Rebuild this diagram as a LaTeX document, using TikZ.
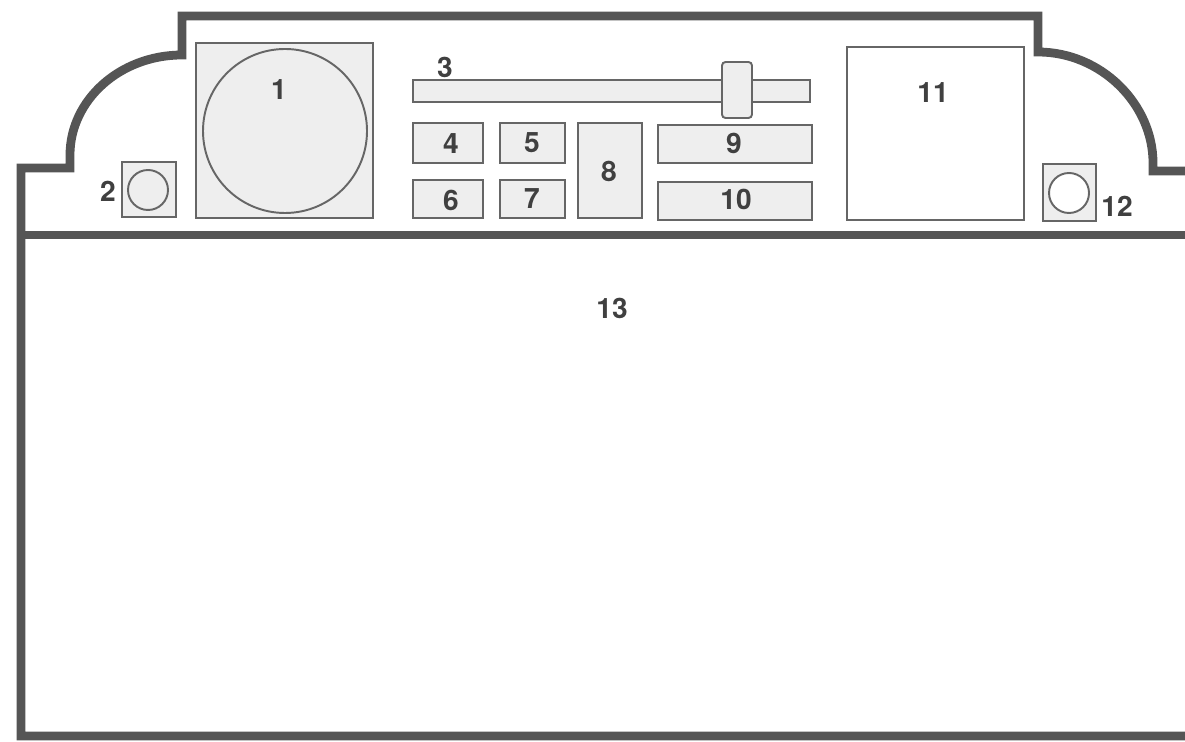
\documentclass[tikz,border=0pt]{standalone}
\usepackage{fontspec}
\setmainfont{TeX Gyre Heros}
\usepackage{tikz}
\usepackage{xcolor}
\definecolor{casing}{HTML}{555555}
\definecolor{trim}{HTML}{666666}
\definecolor{panel}{HTML}{EEEEEE}

\begin{document}
\begin{tikzpicture}[x=0.02cm,y=-0.02cm,line join=miter,
  font=\bfseries\fontsize{16}{18}\selectfont,
  shell/.style={casing,line width=5pt},
  part/.style={trim,line width=1.1pt,fill=panel},
  lbl/.style={text=black!75,inner sep=0pt}]
\useasboundingbox (0,0) rectangle (1185,742);
% casing
\draw[shell] (1185,171) -- (1153,171) -- (1153,163)
  .. controls (1153,104) and (1101,52) .. (1038,52) -- (1038,16) -- (182,16) -- (182,55)
  .. controls (120,55) and (70,100) .. (70,155) -- (70,168) -- (21,168) -- (21,736) -- (1185,736);
\draw[shell] (21,235) -- (1185,235);
% dial and small knobs
\draw[part] (196,43) rectangle (373,218);
\draw[part] (285,131) circle (82);
\draw[part] (122,162) rectangle (176,217);
\draw[part] (148,190) circle (20);
\draw[part] (1043,164) rectangle (1096,221);
\draw[part,fill=white] (1069,193) circle (20);
% slider
\draw[part] (413,80) rectangle (810,102);
\draw[part,rounded corners=2pt] (722,62) rectangle (752,118);
% buttons
\draw[part] (413,123) rectangle (483,163);
\draw[part] (500,123) rectangle (565,163);
\draw[part] (413,180) rectangle (483,218);
\draw[part] (500,180) rectangle (565,218);
\draw[part] (578,123) rectangle (642,218);
\draw[part] (658,125) rectangle (812,163);
\draw[part] (658,182) rectangle (812,220);
\draw[part,fill=white] (847,47) rectangle (1024,220);
% labels
\node[lbl] (n1) at (279,90) {1};
\node[lbl] (n2) at (108,191) {2};
\node[lbl] (n3) at (445,67) {3};
\node[lbl] (n4) at (451,144) {4};
\node[lbl] (n5) at (532,143) {5};
\node[lbl] (n6) at (451,200) {6};
\node[lbl] (n7) at (532,199) {7};
\node[lbl] (n8) at (609,171) {8};
\node[lbl] (n9) at (734,143) {9};
\node[lbl] (n10) at (736,199) {10};
\node[lbl] (n11) at (933,93) {11};
\node[lbl] (n12) at (1117,206) {12};
\node[lbl] (n13) at (612,308) {13};
\end{tikzpicture}
\end{document}
